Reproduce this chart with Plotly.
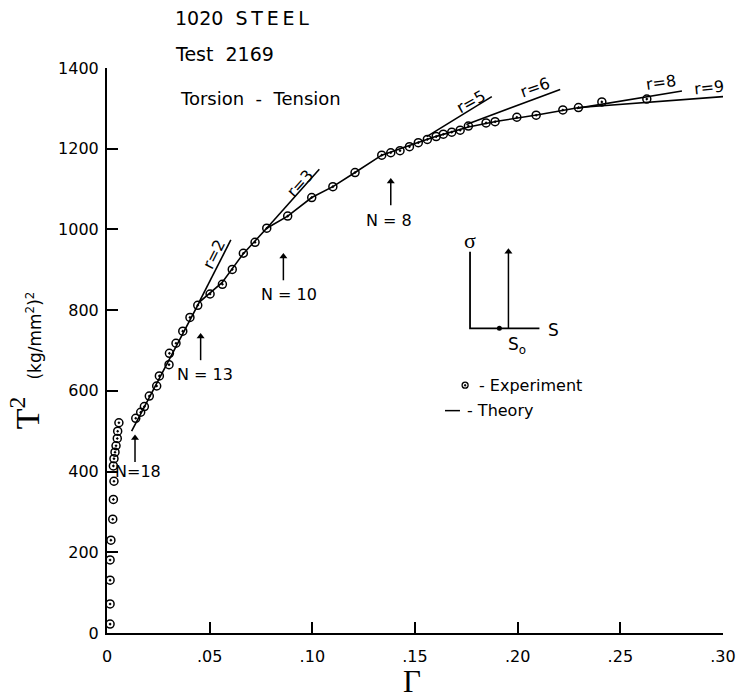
import plotly.graph_objects as go

# ---------------- data ----------------
exp_gamma = [0.0015, 0.0015, 0.0015, 0.0015, 0.0019, 0.0028, 0.0031, 0.0034,
             0.0031, 0.0034, 0.0039, 0.0044, 0.0050, 0.0052, 0.0058,
             0.0140, 0.0164, 0.0182, 0.0206, 0.0242, 0.0255, 0.0302, 0.0304,
             0.0336, 0.0369, 0.0404, 0.0442, 0.0502, 0.0562, 0.0610, 0.0664,
             0.0721, 0.0778, 0.0880, 0.0997, 0.1100, 0.1208,
             0.1338, 0.1382, 0.1427, 0.1473, 0.1516, 0.1560, 0.1603, 0.1638,
             0.1679, 0.1720, 0.1760, 0.1846, 0.1890, 0.1996, 0.2090, 0.2220,
             0.2296, 0.2410, 0.2629]
exp_tau2 = [22, 72, 131, 181, 230, 282, 331, 376,
            414, 432, 448, 464, 482, 500, 521,
            532, 547, 561, 587, 612, 637, 665, 693,
            718, 748, 782, 812, 840, 864, 901, 941,
            968, 1003, 1033, 1079, 1106, 1141,
            1184, 1190, 1195, 1205, 1215, 1223, 1230, 1236,
            1241, 1246, 1256, 1264, 1267, 1278, 1283, 1296,
            1302, 1316, 1323]

theory_gamma = [0.012, 0.030, 0.045, 0.056, 0.0664, 0.0778, 0.088, 0.0997,
                0.110, 0.1208, 0.1338, 0.150, 0.160, 0.176, 0.190, 0.210, 0.230]
theory_tau2 = [500, 675, 820, 868, 940, 1003, 1033, 1079,
               1106, 1141, 1184, 1213, 1230, 1254, 1268, 1284, 1302]

r2_gamma, r2_tau2 = [0.045, 0.0603], [821, 974]
r3_gamma, r3_tau2 = [0.0778, 0.1034], [1003, 1149]
r5_gamma, r5_tau2 = [0.1557, 0.1874], [1230, 1329]
r6_gamma, r6_tau2 = [0.175, 0.2207], [1260, 1347]
r8_gamma, r8_tau2 = [0.2288, 0.280], [1300, 1343]
r9_gamma, r9_tau2 = [0.230, 0.300], [1302, 1329]

x_tickvals = [0, 0.05, 0.10, 0.15, 0.20, 0.25, 0.30]
x_ticktext = ["0", ".05", ".10", ".15", ".20", ".25", ".30"]
y_tickvals = [0, 200, 400, 600, 800, 1000, 1200, 1400]

# ---------------- figure ----------------
SANS = "DejaVu Sans"
SERIF = "Liberation Serif"
line_style = dict(color="black", width=1.6)

fig = go.Figure()

fig.add_trace(go.Scatter(x=theory_gamma, y=theory_tau2, mode="lines",
                         line=line_style, showlegend=False, hoverinfo="skip"))
for gx, gy in [(r2_gamma, r2_tau2), (r3_gamma, r3_tau2), (r5_gamma, r5_tau2),
               (r6_gamma, r6_tau2), (r8_gamma, r8_tau2), (r9_gamma, r9_tau2)]:
    fig.add_trace(go.Scatter(x=gx, y=gy, mode="lines", line=line_style,
                             showlegend=False, hoverinfo="skip"))

fig.add_trace(go.Scatter(x=exp_gamma, y=exp_tau2, mode="markers",
                         marker=dict(symbol="circle-open-dot", size=8, color="black",
                                     line=dict(width=1.5, color="black")),
                         cliponaxis=False, showlegend=False))

# inset diagram (sigma - S)
fig.add_trace(go.Scatter(x=[0.1768, 0.1768, 0.2106], y=[945, 755, 755], mode="lines",
                         line=dict(color="black", width=1.8), showlegend=False,
                         hoverinfo="skip"))
fig.add_trace(go.Scatter(x=[0.1911], y=[755], mode="markers",
                         marker=dict(symbol="circle", size=5, color="black"),
                         showlegend=False, hoverinfo="skip"))

# legend made of marks
fig.add_trace(go.Scatter(x=[0.1744], y=[614], mode="markers",
                         marker=dict(symbol="circle-open-dot", size=6, color="black",
                                     line=dict(width=1.3, color="black")),
                         showlegend=False, hoverinfo="skip"))
fig.add_trace(go.Scatter(x=[0.1646, 0.1719], y=[551, 551], mode="lines",
                         line=dict(color="black", width=1.5), showlegend=False,
                         hoverinfo="skip"))


def arrow(x, y_tip, y_tail):
    """Vertical arrow drawn as a line with a triangular head."""
    fig.add_trace(go.Scatter(x=[x, x], y=[y_tail, y_tip - 10], mode="lines",
                             line=dict(color="black", width=1.5),
                             showlegend=False, hoverinfo="skip"))
    fig.add_trace(go.Scatter(x=[x], y=[y_tip - 8], mode="markers",
                             marker=dict(symbol="triangle-up", size=7, color="black"),
                             showlegend=False, hoverinfo="skip"))


# N arrows and inset arrow
arrow(0.01364, 491, 424)
arrow(0.0456, 743, 676)
arrow(0.0859, 941, 874)
arrow(0.1382, 1127, 1060)
arrow(0.1955, 953, 755)

ann = []
def txt(x, y, t, size=15, angle=0, xanchor="center", font=SANS, xref="x", yref="y"):
    ann.append(dict(x=x, y=y, text=t, showarrow=False, textangle=angle,
                    xanchor=xanchor, yanchor="middle", xref=xref, yref=yref,
                    font=dict(family=font, size=size, color="black")))

TS = "\u2009"  # thin space for the wide lettering
# titles (paper coords)
txt(0.107, 1.0885, "1020" + "  " + TS.join("STEEL"), size=19, xanchor="left", xref="paper", yref="paper")
txt(0.107, 1.0248, "Test  2169", size=19, xanchor="left", xref="paper", yref="paper")
txt(0.115, 0.9469, "Torsion  -  Tension", size=18, xanchor="left", xref="paper", yref="paper")

# r labels
txt(0.0520, 938, "r=2", size=16, angle=-63)
txt(0.0940, 1114, "r=3", size=16, angle=-48)
txt(0.1775, 1316, "r=5", size=16, angle=-29)
txt(0.2085, 1351, "r=6", size=16, angle=-20)
txt(0.2696, 1363, "r=8", size=16, angle=-8)
txt(0.2932, 1351, "r=9", size=16, angle=-6)

# N labels
txt(0.0152, 400, "N=18", size=16)
txt(0.0477, 641, "N = 13", size=16)
txt(0.0884, 840, "N = 10", size=16)
txt(0.1374, 1023, "N = 8", size=16)

# inset labels
txt(0.1768, 972, "σ", size=22, font=SERIF)
txt(0.2174, 752, "S", size=17)
txt(0.1995, 713, "S<sub>o</sub>", size=17)

# legend text
txt(0.180, 614, "- Experiment", size=16, xanchor="left")
txt(0.1744, 551, "- Theory", size=16, xanchor="left")

# axis titles
txt(0.495, -0.085, "Γ", size=31, font=SERIF, xref="paper", yref="paper")
txt(-0.133, 0.389, "T<sup>2</sup>", size=34, angle=-90, font=SERIF, xref="paper", yref="paper")
txt(-0.118, 0.527, "(kg/mm<sup>2</sup>)<sup>2</sup>", size=17, angle=-90, xref="paper", yref="paper")

fig.update_layout(
    width=738, height=700, autosize=False,
    margin=dict(l=107, r=15, t=68, b=67, autoexpand=False),
    paper_bgcolor="white", plot_bgcolor="white",
    annotations=ann,
    font=dict(family=SANS, size=15, color="black"),
)
fig.update_xaxes(range=[0, 0.30], tickvals=x_tickvals, ticktext=x_ticktext,
                 showline=True, linecolor="black", linewidth=2, ticks="inside",
                 ticklen=11, tickwidth=1.5, tickcolor="black", showgrid=False,
                 zeroline=False, ticklabelstandoff=8, automargin=False,
                 tickfont=dict(family=SANS, size=16, color="black"))
fig.update_yaxes(range=[0, 1400], tickvals=y_tickvals,
                 showline=True, linecolor="black", linewidth=2, ticks="inside",
                 ticklen=11, tickwidth=1.5, tickcolor="black", showgrid=False,
                 zeroline=False, ticklabelstandoff=3, automargin=False,
                 tickfont=dict(family=SANS, size=16, color="black"))

fig.write_html("out.html", config={"displayModeBar": False},
               post_script="document.body.style.margin='0px';document.body.style.overflow='hidden';")
